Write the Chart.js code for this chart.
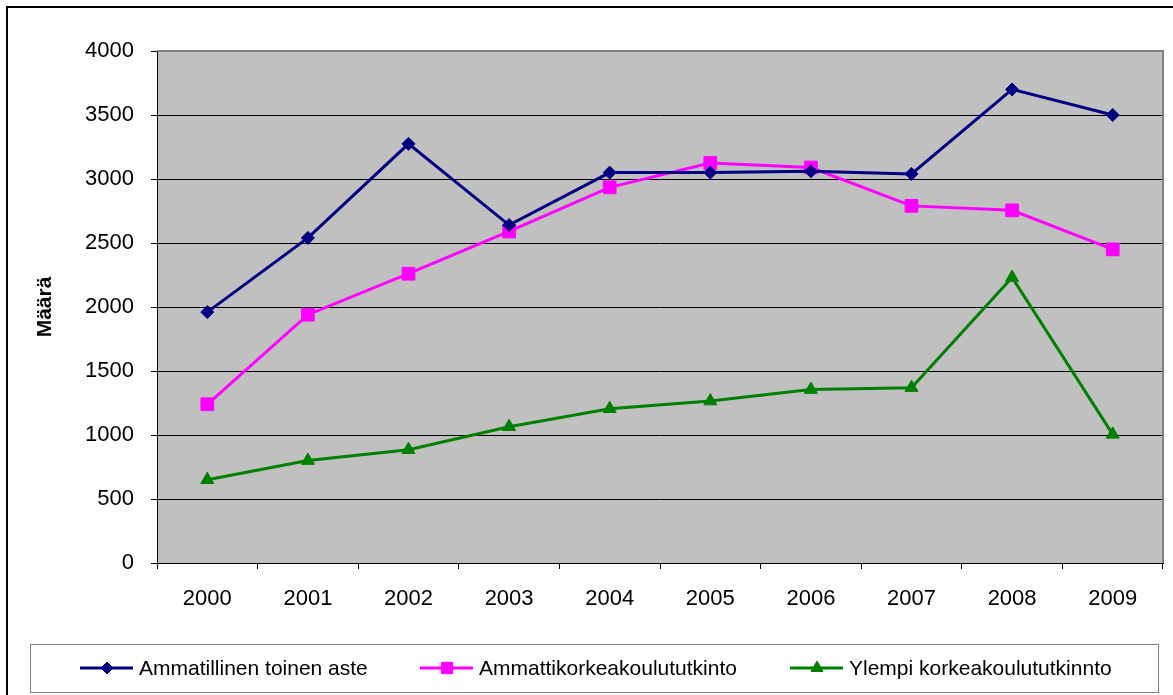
<!DOCTYPE html>
<html>
<head>
<meta charset="utf-8">
<script src="https://cdn.jsdelivr.net/npm/chart.js@4/dist/chart.umd.min.js"></script>
<style>
  html, body { margin: 0; padding: 0; background: #fff; }
  #wrap { width: 1173px; height: 695px; }
</style>
</head>
<body>
<div id="wrap"><canvas id="myChart" width="1173" height="695"></canvas></div>
<script>
const years = ['2000', '2001', '2002', '2003', '2004', '2005', '2006', '2007', '2008', '2009'];
const ammatillinen = [1960, 2540, 3275, 2640, 3050, 3050, 3060, 3040, 3700, 3500];
const amk = [1240, 1940, 2260, 2590, 2935, 3125, 3090, 2790, 2755, 2450];
const ylempi = [650, 800, 885, 1065, 1205, 1265, 1355, 1370, 2230, 1005];
const seriesNames = ['Ammatillinen toinen aste', 'Ammattikorkeakoulututkinto', 'Ylempi korkeakoulututkinnto'];

const FONT = 'Liberation Sans, Arial, sans-serif';

// plot background, frame, outer border and the boxed legend
const frame = {
    id: 'frame',
    beforeDraw(chart) {
        const ctx = chart.ctx;
        const a = chart.chartArea;
        ctx.save();
        ctx.fillStyle = '#c0c0c0';
        ctx.fillRect(a.left, a.top, a.right - a.left, a.bottom - a.top);
        ctx.strokeStyle = '#000';
        ctx.lineWidth = 2;
        ctx.strokeRect(7, 7, 1180, 700);
        ctx.restore();
    },
    afterDatasetsDraw(chart) {
        const ctx = chart.ctx;
        const a = chart.chartArea;
        ctx.save();
        ctx.strokeStyle = '#808080';
        ctx.lineWidth = 2;
        ctx.beginPath();
        ctx.moveTo(a.left, a.top);
        ctx.lineTo(a.right, a.top);
        ctx.lineTo(a.right, a.bottom);
        ctx.stroke();
        ctx.restore();
    },
    afterDraw(chart) {
        const ctx = chart.ctx;
        ctx.save();
        ctx.fillStyle = '#fff';
        ctx.strokeStyle = '#808080';
        ctx.lineWidth = 1;
        ctx.fillRect(30.5, 644.5, 1128, 48);
        ctx.strokeRect(30.5, 644.5, 1128, 48);
        const starts = [80, 420, 790];
        const legendRadius = [6, 8, 7];
        const cy = 668;
        chart.data.datasets.forEach((ds, i) => {
            const x0 = starts[i];
            ctx.strokeStyle = ds.borderColor;
            ctx.lineWidth = 3;
            ctx.beginPath();
            ctx.moveTo(x0, cy);
            ctx.lineTo(x0 + 53, cy);
            ctx.stroke();
            ctx.fillStyle = ds.pointBackgroundColor;
            ctx.strokeStyle = ds.pointBorderColor;
            ctx.lineWidth = 1;
            Chart.helpers.drawPoint(ctx, {
                pointStyle: ds.pointStyle,
                radius: legendRadius[i],
                rotation: 0,
                borderWidth: 1
            }, x0 + 27, cy);
            ctx.fillStyle = '#000';
            ctx.font = '21px ' + FONT;
            ctx.textBaseline = 'middle';
            ctx.textAlign = 'left';
            ctx.fillText(ds.label, x0 + 59, cy + 1);
        });
        ctx.restore();
    }
};

function makeSet(label, data, color, style, radius) {
    return {
        label: label,
        data: data,
        borderColor: color,
        backgroundColor: color,
        pointBackgroundColor: color,
        pointBorderColor: color,
        borderWidth: 3,
        pointStyle: style,
        pointRadius: radius,
        pointBorderWidth: 1,
        tension: 0,
        fill: false
    };
}

const ctx = document.getElementById('myChart').getContext('2d');
const chart = new Chart(ctx, {
    type: 'line',
    data: {
        labels: years,
        datasets: [
            makeSet(seriesNames[0], ammatillinen, '#000080', 'rectRot', 6.5),
            makeSet(seriesNames[1], amk, '#ff00ff', 'rect', 9),
            makeSet(seriesNames[2], ylempi, '#008000', 'triangle', 7.5)
        ]
    },
    options: {
        responsive: false,
        animation: false,
        devicePixelRatio: 1,
        layout: { padding: { left: 0, top: 51, right: 8, bottom: 0 } },
        plugins: {
            legend: { display: false },
            tooltip: { enabled: false }
        },
        scales: {
            x: {
                offset: true,
                grid: {
                    offset: true,
                    drawOnChartArea: false,
                    drawTicks: true,
                    tickLength: 6,
                    color: '#000'
                },
                border: { color: '#000', width: 1 },
                ticks: {
                    color: '#000',
                    font: { family: FONT, size: 22 },
                    padding: 17,
                    maxRotation: 0
                },
                afterFit(scale) { scale.height = 132; }
            },
            y: {
                min: 0,
                max: 4000,
                grid: {
                    color: '#000',
                    lineWidth: 1,
                    drawTicks: true,
                    tickLength: 6
                },
                border: { color: '#000', width: 1 },
                ticks: {
                    stepSize: 500,
                    color: '#000',
                    font: { family: FONT, size: 22 },
                    padding: 17,
                    callback: v => String(v)
                },
                title: {
                    display: true,
                    text: 'Määrä',
                    color: '#000',
                    font: { family: FONT, size: 21, weight: 'bold' },
                    padding: { top: 33, bottom: 0 }
                },
                afterFit(scale) { scale.width = 157; }
            }
        }
    },
    plugins: [frame]
});
</script>
</body>
</html>
